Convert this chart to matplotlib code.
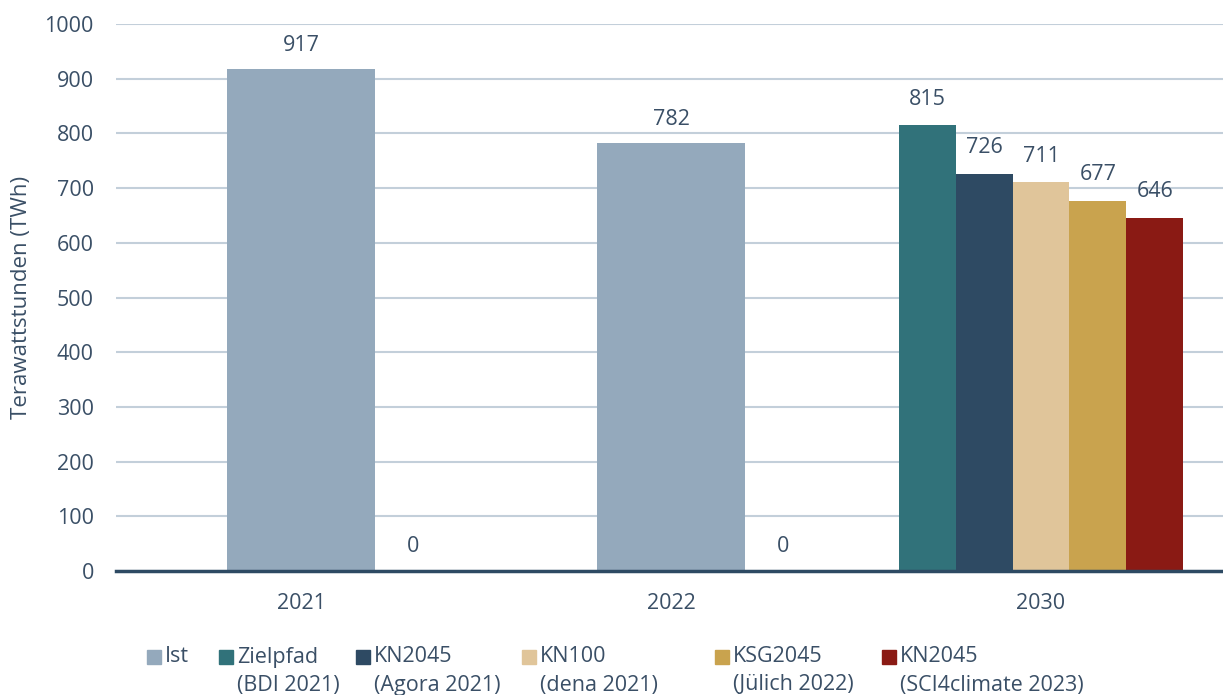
import matplotlib.pyplot as plt
from matplotlib.patches import Rectangle
import numpy as np

plt.rcParams['font.family'] = ['Open Sans', 'DejaVu Sans']

# data
years = ['2021', '2022', '2030']
ist = [917, 782]              # actual values for 2021, 2022
ist_zero = [0, 0]             # empty companion series shown as "0"
scenarios = ['Zielpfad\n(BDI 2021)', 'KN2045\n(Agora 2021)', 'KN100\n(dena 2021)',
             'KSG2045\n(Jülich 2022)', 'KN2045\n(SCI4climate 2023)']
scen_2030 = [815, 726, 711, 677, 646]

col_ist = '#94a9bc'
scen_colors = ['#31727a', '#2e4a63', '#e0c59a', '#c9a34e', '#8a1a14']
txt = '#3a4f66'
fs = 15.5

W, H = 1223, 695
fig = plt.figure(figsize=(W / 100, H / 100), dpi=100)
ax = fig.add_axes([116 / W, 124 / H, 1107 / W, 547 / H])

x = np.arange(len(years))

# Ist bars
bars = ax.bar(x[:2], ist, width=0.4, color=col_ist, zorder=2)
for b, v in zip(bars, ist):
    ax.annotate(str(v), (b.get_x() + b.get_width() / 2, v), xytext=(0, 24),
                textcoords='offset pixels', ha='center', va='center', fontsize=fs, color=txt)
for xi, v in zip(x[:2], ist_zero):
    ax.annotate(str(v), (xi + 0.303, v), xytext=(0, 24),
                textcoords='offset pixels', ha='center', va='center', fontsize=fs, color=txt)

# 2030 scenario bars
bw = 0.154
for i, (v, c) in enumerate(zip(scen_2030, scen_colors)):
    xp = x[2] + (i - 2) * bw
    ax.bar(xp, v, width=bw, color=c, zorder=2)
    ax.annotate(str(v), (xp, v), xytext=(0, 26), textcoords='offset pixels',
                ha='center', va='center', fontsize=fs, color=txt)

ax.set_xlim(-0.5, -0.5 + 1107 / 370)
ax.set_ylim(0, 1000)
ax.set_yticks(range(0, 1001, 100))
ax.set_xticks(x)
ax.set_xticklabels(years)
ax.tick_params(axis='y', length=0, pad=16, labelsize=fs, labelcolor=txt)
ax.tick_params(axis='x', length=0, pad=16, labelsize=fs, labelcolor=txt)
ax.yaxis.grid(True, color='#c3cfda', lw=1.5, zorder=0)
ax.set_axisbelow(True)
for s in ['top', 'right', 'left']:
    ax.spines[s].set_visible(False)
ax.spines['bottom'].set_color('#2e4a63')
ax.spines['bottom'].set_linewidth(2.5)
ax.spines['bottom'].set_zorder(3)
ax.set_ylabel('Terawattstunden (TWh)', fontsize=16, color=txt, labelpad=9)

# legend drawn by hand (patch aligned with first line)
leg_labels = ['Ist'] + scenarios
leg_colors = [col_ist] + scen_colors
leg_x = [147, 219, 356, 522, 715, 882]
for lx, lab, c in zip(leg_x, leg_labels, leg_colors):
    fig.patches.append(Rectangle(((lx) / W, 1 - 664 / H), 14 / W, 14 / H,
                                 transform=fig.transFigure, color=c))
    lines = lab.split('\n')
    for k, line in enumerate(lines):
        fig.text((lx + 18) / W, 1 - (657 + 28 * k) / H, line, ha='left', va='center',
                 fontsize=fs, color=txt)

fig.savefig('out.png', dpi=100)
